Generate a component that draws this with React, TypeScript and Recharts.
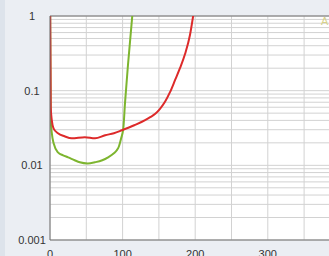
import { LineChart, Line, XAxis, YAxis, CartesianGrid, ReferenceLine } from 'recharts'

// x positions and values (log y axis)
const redX = [0, 1, 2.5, 5, 11, 20, 30, 48, 62, 76, 88, 99, 116, 131, 138, 145, 151.5, 158.4, 165.3, 172.2, 179, 186, 192.8, 197.5]
const redY = [3, 0.06, 0.04, 0.031, 0.0269, 0.0245, 0.023, 0.0238, 0.023, 0.0253, 0.0269, 0.0295, 0.0344, 0.0402, 0.0442, 0.049, 0.0572, 0.071, 0.0955, 0.138, 0.2, 0.309, 0.556, 1.05]

const greenX = [0, 1, 2.5, 5, 11, 18, 25, 34, 41, 52, 62, 72, 80, 88, 92, 95, 98, 101, 103.3, 107.4, 113.5]
const greenY = [3, 0.04, 0.027, 0.0197, 0.0149, 0.0136, 0.0128, 0.0117, 0.011, 0.0106, 0.011, 0.0117, 0.0128, 0.0145, 0.0159, 0.018, 0.023, 0.0314, 0.068, 0.22, 1.05]

const xTicks = [0, 50, 100, 150, 200, 250, 300, 350, 400, 450, 500]
const yTicks = [
  0.001, 0.002, 0.003, 0.004, 0.005, 0.006, 0.007, 0.008, 0.009,
  0.01, 0.02, 0.03, 0.04, 0.05, 0.06, 0.07, 0.08, 0.09,
  0.1, 0.2, 0.3, 0.4, 0.5, 0.6, 0.7, 0.8, 0.9, 1,
]

const redData = redX.map((x, i) => ({ x, y: redY[i] }))
const greenData = greenX.map((x, i) => ({ x, y: greenY[i] }))

const font = '"Liberation Sans", Arial, sans-serif'

const isDecade = (v: number) => Math.abs(Math.log10(v) - Math.round(Math.log10(v))) < 1e-9

function YTick({ x, y, payload }: any) {
  if (!isDecade(payload.value)) return null
  return (
    <text x={x - 18} y={y} dy={4} textAnchor="middle" fontSize={11} fill="#333" fontFamily={font}>
      {String(payload.value)}
    </text>
  )
}

function XTick({ x, y, payload }: any) {
  if (payload.value % 100 !== 0) return null
  return (
    <text x={x} y={y} dy={18} textAnchor="middle" fontSize={11} fill="#333" fontFamily={font}>
      {payload.value}
    </text>
  )
}

export default function App() {
  return (
    <div style={{ position: 'fixed', left: 0, top: 0, width: 329, height: 256, overflow: 'hidden', background: '#ebeef3' }}>
      <div style={{ position: 'absolute', left: 0, top: 0, width: 5, height: 256, background: '#dde3eb' }} />
      <div style={{ position: 'absolute', left: 0, top: 0 }}>
        <LineChart width={420} height={256} margin={{ top: 16, right: 7, left: 0, bottom: 0 }}>
          <CartesianGrid fill="#fff" stroke="#d2d2d2" />
          <XAxis
            type="number"
            dataKey="x"
            domain={[0, 500]}
            ticks={xTicks}
            height={16}
            tickSize={0}
            tickMargin={0}
            tick={<XTick />}
            axisLine={{ stroke: '#707070' }}
            allowDataOverflow
          />
          <YAxis
            type="number"
            scale="log"
            domain={[0.001, 1]}
            ticks={yTicks}
            width={50}
            tickSize={0}
            tickMargin={0}
            tick={<YTick />}
            axisLine={{ stroke: '#707070' }}
            allowDataOverflow
            interval={0}
          />
          <ReferenceLine y={1} stroke="#707070" />
          <Line data={greenData} dataKey="y" type="monotone" stroke="#7db52f" strokeWidth={2} dot={false} isAnimationActive={false} />
          <Line data={redData} dataKey="y" type="monotone" stroke="#dd2a2a" strokeWidth={2} dot={false} isAnimationActive={false} />
        </LineChart>
      </div>
      <div style={{ position: 'absolute', left: 321, top: 15, fontFamily: font, fontSize: 11, color: '#d8d28a' }}>A</div>
    </div>
  )
}
